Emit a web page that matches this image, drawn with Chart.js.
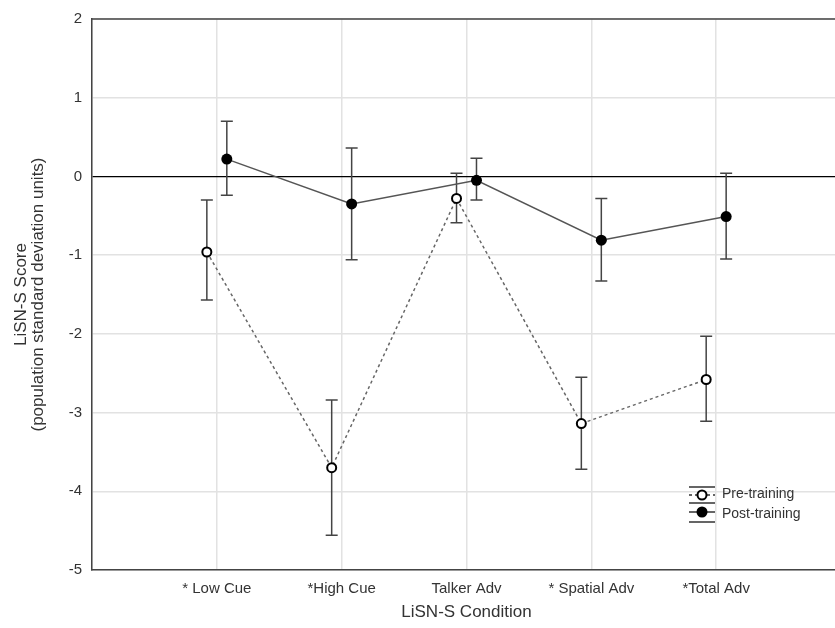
<!DOCTYPE html>
<html>
<head>
<meta charset="utf-8">
<script src="https://cdn.jsdelivr.net/npm/chart.js@4.4.0/dist/chart.umd.min.js"></script>
<style>
  html, body { margin: 0; padding: 0; background: #fff; overflow: hidden; }
  #wrap { position: relative; width: 851px; height: 628px; }
</style>
</head>
<body>
<div id="wrap"><canvas id="chart"></canvas></div>
<script>
// kondisi LiSN-S
const conditions = ['* Low Cue', '*High Cue', 'Talker Adv', '* Spatial Adv', '*Total Adv'];

// skor sebelum latihan (rata-rata dan batas error bar)
const preMean = [-0.96, -3.70, -0.28, -3.14, -2.58];
const preLow  = [-1.57, -4.56, -0.59, -3.72, -3.11];
const preHigh = [-0.30, -2.84, 0.04, -2.55, -2.03];

// skor sesudah latihan
const postMean = [0.22, -0.35, -0.05, -0.81, -0.51];
const postLow  = [-0.24, -1.06, -0.30, -1.33, -1.05];
const postHigh = [0.70, 0.36, 0.23, -0.28, 0.04];

const yTicks = [2, 1, 0, -1, -2, -3, -4, -5];

const shift = 0.08; // geser sedikit supaya titik tidak bertumpuk
const prePoints = preMean.map((v, i) => ({ x: i + 1 - shift, y: v, lo: preLow[i], hi: preHigh[i] }));
const postPoints = postMean.map((v, i) => ({ x: i + 1 + shift, y: v, lo: postLow[i], hi: postHigh[i] }));

const FONT = '"Liberation Sans", Arial, sans-serif';

// plugin untuk error bar
const errorBars = {
  id: 'errorBars',
  beforeDatasetsDraw(chart) {
    const { ctx, scales: { x, y } } = chart;
    ctx.save();
    ctx.strokeStyle = '#444';
    ctx.lineWidth = 1.5;
    chart.data.datasets.forEach((ds) => {
      ds.data.forEach((p) => {
        const px = x.getPixelForValue(p.x);
        const top = y.getPixelForValue(p.hi);
        const bot = y.getPixelForValue(p.lo);
        ctx.beginPath();
        ctx.moveTo(px, top); ctx.lineTo(px, bot);
        ctx.moveTo(px - 6, top); ctx.lineTo(px + 6, top);
        ctx.moveTo(px - 6, bot); ctx.lineTo(px + 6, bot);
        ctx.stroke();
      });
    });
    ctx.restore();
  }
};

// plugin untuk legenda dan garis atas
const extras = {
  id: 'extras',
  afterDraw(chart) {
    const { ctx, chartArea } = chart;
    ctx.save();
    ctx.strokeStyle = '#444';
    ctx.lineWidth = 1.5;
    ctx.beginPath();
    ctx.moveTo(chartArea.left, chartArea.top);
    ctx.lineTo(chartArea.right, chartArea.top);
    ctx.stroke();

    // legenda
    const lx1 = 689, lx2 = 715, mx = 702;
    ctx.lineWidth = 1.5;
    ctx.strokeStyle = '#333';
    ctx.beginPath();
    [487, 503, 522].forEach((yy) => { ctx.moveTo(lx1, yy); ctx.lineTo(lx2, yy); });
    ctx.stroke();
    ctx.setLineDash([3, 3]);
    ctx.beginPath(); ctx.moveTo(lx1, 495); ctx.lineTo(lx2, 495); ctx.stroke();
    ctx.setLineDash([]);
    ctx.beginPath(); ctx.moveTo(lx1, 512); ctx.lineTo(lx2, 512); ctx.stroke();
    ctx.beginPath(); ctx.arc(mx, 495, 4.5, 0, Math.PI * 2);
    ctx.fillStyle = '#fff'; ctx.fill();
    ctx.lineWidth = 2; ctx.strokeStyle = '#000'; ctx.stroke();
    ctx.beginPath(); ctx.arc(mx, 512, 5.5, 0, Math.PI * 2);
    ctx.fillStyle = '#000'; ctx.fill();

    ctx.fillStyle = '#333';
    ctx.font = '14px ' + FONT;
    ctx.textBaseline = 'middle';
    ctx.textAlign = 'left';
    ctx.fillText('Pre-training', 722, 494);
    ctx.fillText('Post-training', 722, 514);
    ctx.restore();
  }
};

const ctx = document.getElementById('chart').getContext('2d');
new Chart(ctx, {
  type: 'line',
  data: {
    datasets: [{
      label: 'Pre-training',
      data: prePoints,
      borderColor: '#666',
      borderWidth: 1.5,
      borderDash: [3, 3],
      pointRadius: 4.5,
      pointBorderWidth: 2,
      pointBorderColor: '#000',
      pointBackgroundColor: '#fff',
      tension: 0
    }, {
      label: 'Post-training',
      data: postPoints,
      borderColor: '#555',
      borderWidth: 1.5,
      pointRadius: 5.5,
      pointBorderWidth: 0,
      pointBackgroundColor: '#000',
      tension: 0
    }]
  },
  options: {
    responsive: true,
    maintainAspectRatio: false,
    animation: false,
    layout: { padding: { top: 19, right: 8, left: 0, bottom: 0 } },
    scales: {
      x: {
        type: 'linear',
        min: 0,
        max: 6,
        afterFit(scale) { scale.height = 58; },
        afterBuildTicks(scale) {
          scale.ticks = [0, 1, 2, 3, 4, 5, 6].map((v) => ({ value: v }));
        },
        ticks: {
          autoSkip: false,
          maxRotation: 0,
          padding: 10,
          color: '#333',
          font: { family: FONT, size: 15 },
          callback: (v) => conditions[v - 1] || ''
        },
        grid: { color: '#e2e2e2', drawTicks: false, lineWidth: 1.5 },
        border: { color: '#444', width: 1.5 },
        title: {
          display: true,
          text: 'LiSN-S Condition',
          color: '#333',
          font: { family: FONT, size: 17 },
          padding: { top: 0, bottom: 5 }
        }
      },
      y: {
        min: -5,
        max: 2,
        afterFit(scale) { scale.width = 92; },
        afterBuildTicks(scale) {
          scale.ticks = yTicks.map((v) => ({ value: v }));
        },
        ticks: {
          padding: 10,
          color: '#333',
          font: { family: FONT, size: 15 }
        },
        grid: {
          drawTicks: false,
          lineWidth: (c) => (c.tick && c.tick.value === 0 ? 1.2 : 1.5),
          color: (c) => (c.tick && c.tick.value === 0 ? '#000' : '#e2e2e2')
        },
        border: { color: '#444', width: 1.5 },
        title: {
          display: true,
          text: ['LiSN-S Score', '(population standard deviation units)'],
          color: '#333',
          font: { family: FONT, size: 17, lineHeight: '17px' },
          padding: { top: 13, bottom: 0 }
        }
      }
    },
    plugins: {
      legend: { display: false },
      tooltip: { enabled: false }
    }
  },
  plugins: [errorBars, extras]
});
</script>
</body>
</html>
